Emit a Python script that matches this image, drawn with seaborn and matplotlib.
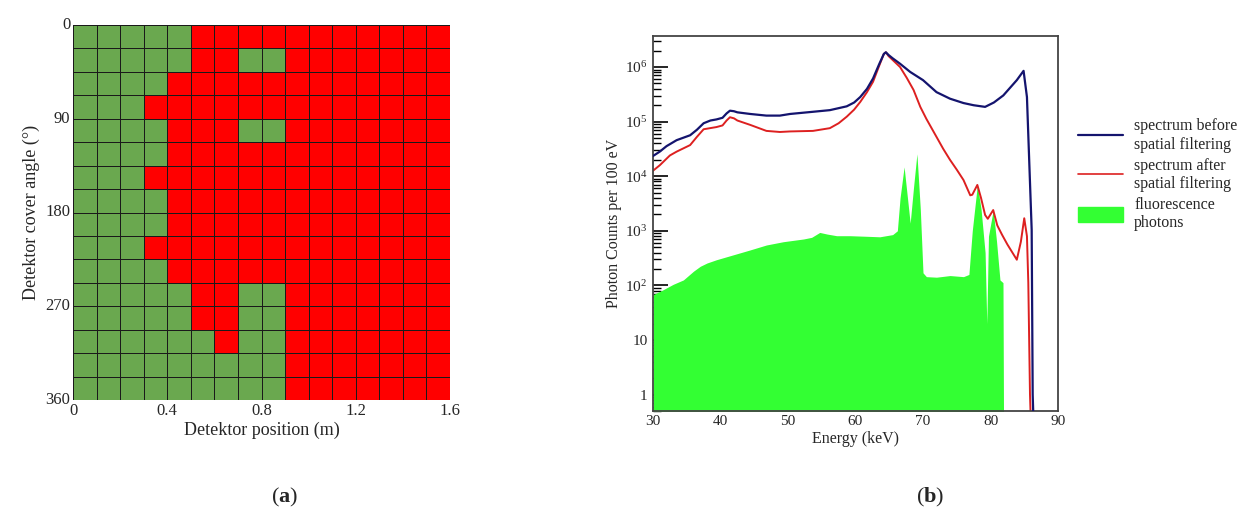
import matplotlib
matplotlib.use("Agg")
from matplotlib import pyplot as plt, patches
from matplotlib.colors import ListedColormap
from matplotlib.lines import Line2D
from matplotlib.ticker import FixedLocator, FixedFormatter, LogLocator, NullFormatter
import numpy as np
import pandas as pd
import seaborn as sns

# ---- panel (a): detector map, one string per 22.5 deg row, G = green, R = red ----
map_rows = [
	"GGGGGRRRRRRRRRRR",
	"GGGGGRRGGRRRRRRR",
	"GGGGRRRRRRRRRRRR",
	"GGGRRRRRRRRRRRRR",
	"GGGGRRRGGRRRRRRR",
	"GGGGRRRRRRRRRRRR",
	"GGGRRRRRRRRRRRRR",
	"GGGGRRRRRRRRRRRR",
	"GGGGRRRRRRRRRRRR",
	"GGGRRRRRRRRRRRRR",
	"GGGGRRRRRRRRRRRR",
	"GGGGGRRGGRRRRRRR",
	"GGGGGRRGGRRRRRRR",
	"GGGGGGRGGRRRRRRR",
	"GGGGGGGGGRRRRRRR",
	"GGGGGGGGGRRRRRRR",
]
position_labels = ["0", "0.4", "0.8", "1.2", "1.6"]
angle_labels = ["0", "90", "180", "270", "360"]

# ---- panel (b): spectra, energy in keV and log10(photon counts per 100 eV) ----
energy_before = [30.0, 31.0, 32.0, 33.5, 35.5, 36.5, 37.5, 38.5, 39.4, 40.3, 40.9, 41.4,
	42.0, 42.5, 44.4, 46.8, 48.8, 50.3, 53.7, 56.2, 58.7, 59.8, 60.7, 61.7, 62.6,
	63.5, 64.2, 64.5, 64.9, 65.5, 66.6, 68.1, 70.0, 72.0, 74.0, 76.0, 77.5, 79.2,
	80.5, 81.9, 83.9, 84.9, 85.4, 85.8, 86.1, 86.25, 86.4]
log_before = [4.37, 4.45, 4.55, 4.66, 4.75, 4.85, 4.97, 5.02, 5.04, 5.07, 5.15, 5.20,
	5.19, 5.17, 5.14, 5.11, 5.11, 5.14, 5.18, 5.21, 5.28, 5.35, 5.45, 5.60, 5.79,
	6.05, 6.24, 6.27, 6.22, 6.16, 6.06, 5.91, 5.76, 5.54, 5.42, 5.34, 5.30, 5.27,
	5.35, 5.48, 5.76, 5.93, 5.45, 4.06, 3.02, 0.0, -0.6]

energy_after = [30.0, 31.0, 32.5, 33.5, 35.5, 36.5, 37.5, 39.4, 40.3, 40.9, 41.4, 42.0,
	42.5, 44.4, 46.8, 48.8, 50.3, 53.7, 56.2, 57.5, 58.7, 59.8, 60.7, 61.7, 62.6,
	63.5, 64.2, 64.5, 64.9, 65.5, 66.6, 67.6, 68.6, 69.6, 70.5, 72.0, 73.0, 74.0,
	75.0, 76.0, 77.0, 77.3, 78.05, 78.6, 79.2, 79.6, 80.4, 81.0, 81.7, 82.5, 83.9,
	84.5, 85.0, 85.4, 85.6, 85.85, 86.0]
log_after = [4.10, 4.20, 4.38, 4.45, 4.57, 4.72, 4.86, 4.90, 4.93, 5.02, 5.08, 5.06,
	5.02, 4.94, 4.83, 4.81, 4.82, 4.83, 4.88, 4.97, 5.09, 5.22, 5.36, 5.54, 5.73,
	6.02, 6.24, 6.27, 6.20, 6.13, 6.00, 5.80, 5.58, 5.27, 5.05, 4.72, 4.50, 4.30,
	4.12, 3.93, 3.65, 3.66, 3.84, 3.60, 3.29, 3.22, 3.38, 3.10, 2.93, 2.75, 2.47,
	2.80, 3.23, 2.90, 2.05, 0.0, -0.6]

energy_fluo = [30.0, 31.5, 33.0, 34.5, 36.0, 37.0, 38.0, 39.4, 41.9, 44.4, 46.8, 49.3,
	52.3, 53.5, 54.7, 55.8, 57.2, 59.2, 61.5, 63.6, 65.5, 66.2, 66.6, 67.2, 67.7,
	68.1, 68.6, 69.1, 69.6, 70.0, 70.5, 72.0, 74.0, 76.0, 76.8, 77.3, 78.05, 78.6,
	79.2, 79.45, 79.7, 80.4, 80.9, 81.4, 81.85, 81.95]
log_fluo = [1.83, 1.92, 2.02, 2.10, 2.26, 2.35, 2.41, 2.47, 2.56, 2.65, 2.74, 2.80,
	2.85, 2.88, 2.97, 2.94, 2.91, 2.91, 2.90, 2.89, 2.93, 3.00, 3.60, 4.17, 3.60,
	3.14, 3.80, 4.41, 3.40, 2.23, 2.16, 2.15, 2.18, 2.16, 2.20, 3.00, 3.84, 3.40,
	2.60, 1.30, 2.90, 3.38, 2.80, 2.10, 2.05, -1.0]

energy_ticks = [30, 40, 50, 60, 70, 80, 90]
count_ticks = [1, 10, 100, 1000, 1e4, 1e5, 1e6]
count_labels = ["1", "10", "$10^2$", "$10^3$", "$10^4$", "$10^5$", "$10^6$"]

map_green = "#6aa84f"
map_red = "#ff0000"
c_before = "#14146e"
c_after = "#dd2020"
c_fluo = "#33ff33"

sns.set_theme(style="white")
plt.rcParams["font.family"] = ["Liberation Serif", "DejaVu Serif"]
plt.rcParams["mathtext.fontset"] = "custom"
plt.rcParams["mathtext.rm"] = "Liberation Serif"
plt.rcParams["mathtext.it"] = "Liberation Serif:italic"
plt.rcParams["mathtext.bf"] = "Liberation Serif:bold"

fig = plt.figure(figsize=(12.5, 5.16), dpi=100)
W, H = 1250, 516
ax1 = fig.add_axes([73 / W, 1 - 400 / H, 377 / W, 375 / H])
ax2 = fig.add_axes([653 / W, 1 - 411 / H, 405 / W, 375 / H])

# panel (a)
grid = np.array([[1 if c == "R" else 0 for c in row] for row in map_rows])
sns.heatmap(grid, cmap=ListedColormap([map_green, map_red]), vmin=0, vmax=1, cbar=False,
	linewidths=0.7, linecolor="#1a1a1a", ax=ax1)
n_rows, n_cols = grid.shape
ax1.set_xticks(np.linspace(0, n_cols, len(position_labels)))
ax1.set_xticklabels(position_labels, rotation=0, fontsize=12)
ax1.set_yticks(np.linspace(0, n_rows, len(angle_labels)))
ax1.set_yticklabels(angle_labels, rotation=0, fontsize=12)
ax1.tick_params(length=0, pad=2)
ax1.set_xlabel("Detektor position (m)", fontsize=13, labelpad=2)
ax1.set_ylabel("Detektor cover angle (°)", fontsize=13, labelpad=4)

# panel (b)
ax2.fill_between(energy_fluo, 0.01, 10 ** np.array(log_fluo), color=c_fluo, lw=0, zorder=1)
sns.lineplot(x=energy_after, y=10 ** np.array(log_after), color=c_after, lw=1.4,
	sort=False, ax=ax2, zorder=2)
sns.lineplot(x=energy_before, y=10 ** np.array(log_before), color=c_before, lw=1.6,
	sort=False, ax=ax2, zorder=3)
ax2.set_yscale("log")
ax2.set_xlim(30, 90)
ax2.set_ylim(0.5, 3.7e6)
ax2.xaxis.set_major_locator(FixedLocator(energy_ticks))
ax2.set_xticklabels([str(t) for t in energy_ticks], fontsize=11)
ax2.yaxis.set_major_locator(FixedLocator(count_ticks))
ax2.yaxis.set_major_formatter(FixedFormatter(count_labels))
ax2.yaxis.set_minor_locator(LogLocator(base=10, subs=np.arange(2, 10), numticks=20))
ax2.yaxis.set_minor_formatter(NullFormatter())
ax2.tick_params(axis="y", which="major", direction="in", length=11, width=1.2,
	left=True, labelsize=11, pad=4, color="black")
ax2.tick_params(axis="y", which="minor", direction="in", length=6, width=1.0,
	left=True, color="black")
ax2.tick_params(axis="x", length=0, pad=3)
for s in ax2.spines.values():
	s.set_color("#444444")
	s.set_linewidth(1.3)
ax2.set_xlabel("Energy (keV)", fontsize=11.5, labelpad=2)
ax2.set_ylabel("Photon Counts per 100 eV", fontsize=11.5, labelpad=2)

handles = [Line2D([], [], color=c_before, lw=1.6),
	Line2D([], [], color=c_after, lw=1.2),
	patches.Patch(color=c_fluo)]
labels = ["spectrum before\nspatial filtering", "spectrum after\nspatial filtering",
	"fluorescence\nphotons"]
fig.legend(handles, labels, loc="upper left", bbox_to_anchor=(1064 / W, 1 - 104 / H),
	frameon=False, fontsize=11.5, handlelength=2.8, handleheight=1.0,
	handletextpad=0.7, labelspacing=0.3)

fig.text(285 / W, 1 - 497 / H, r"($\mathbf{a}$)", fontsize=16, ha="center", va="center")
fig.text(930 / W, 1 - 497 / H, r"($\mathbf{b}$)", fontsize=16, ha="center", va="center")

plt.savefig("out.png", dpi=100)
plt.close()
